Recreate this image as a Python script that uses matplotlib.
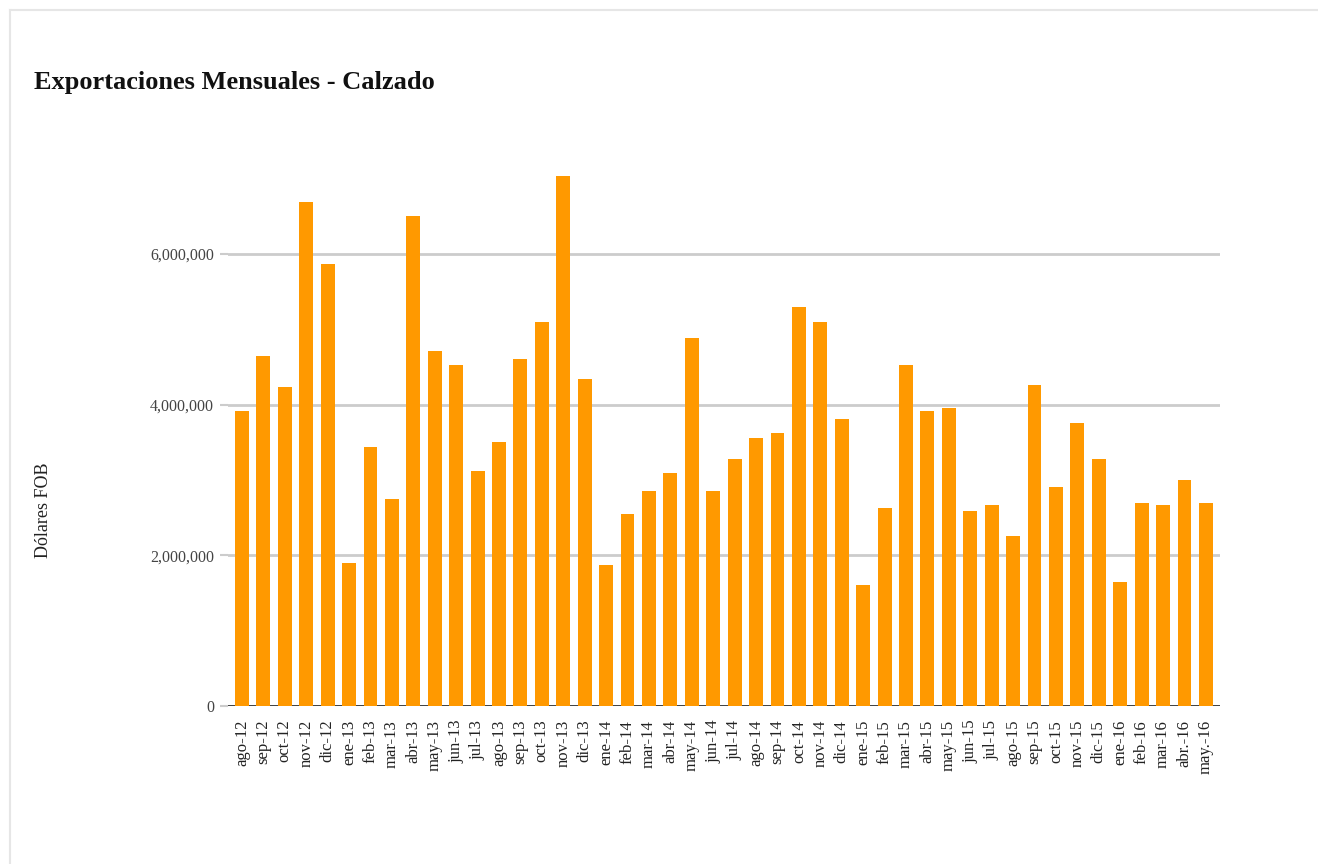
import matplotlib.pyplot as plt
from matplotlib.ticker import FuncFormatter
from matplotlib.lines import Line2D

meses = ['ago-12', 'sep-12', 'oct-12', 'nov-12', 'dic-12',
         'ene-13', 'feb-13', 'mar-13', 'abr-13', 'may-13', 'jun-13', 'jul-13',
         'ago-13', 'sep-13', 'oct-13', 'nov-13', 'dic-13',
         'ene-14', 'feb-14', 'mar-14', 'abr-14', 'may-14', 'jun-14', 'jul-14',
         'ago-14', 'sep-14', 'oct-14', 'nov-14', 'dic-14',
         'ene-15', 'feb-15', 'mar-15', 'abr-15', 'may-15', 'jun-15', 'jul-15',
         'ago-15', 'sep-15', 'oct-15', 'nov-15', 'dic-15',
         'ene-16', 'feb-16', 'mar-16', 'abr.-16', 'may.-16']

# exportaciones en dolares FOB
exportaciones = [3920000, 4640000, 4230000, 6690000, 5860000,
                 1900000, 3430000, 2740000, 6500000, 4710000, 4530000, 3120000,
                 3500000, 4610000, 5100000, 7030000, 4340000,
                 1870000, 2550000, 2850000, 3090000, 4880000, 2850000, 3280000,
                 3550000, 3620000, 5290000, 5100000, 3810000,
                 1600000, 2630000, 4530000, 3920000, 3960000, 2590000, 2670000,
                 2250000, 4260000, 2900000, 3760000, 3280000,
                 1640000, 2700000, 2670000, 3000000, 2700000]

serif = ['Liberation Serif', 'DejaVu Serif']

fig = plt.figure(figsize=(13.18, 8.64), dpi=100)
ax = fig.add_axes([0.173, 0.1829, 0.7525, 0.628])

x = range(len(meses))
ax.bar(x, exportaciones, width=0.65, color='#ff9900', zorder=3)

ax.set_xlim(-0.65, len(meses) - 0.35)
ax.set_ylim(0, 7200000)
ax.set_yticks([0, 2000000, 4000000, 6000000])
ax.yaxis.set_major_formatter(FuncFormatter(lambda v, p: '{:,.0f}'.format(v)))
ax.grid(axis='y', color='#cccccc', linewidth=2, zorder=0)
ax.axhline(0, color='#333333', linewidth=2, zorder=2)

ax.set_xticks(list(x))
ax.set_xticklabels(meses, rotation=90, family=serif, fontsize=12, color='#222222')
for lbl in ax.get_yticklabels():
    lbl.set_family(serif)
    lbl.set_fontsize(11.5)
    lbl.set_color('#444444')

ax.tick_params(axis='x', length=0, pad=10)
ax.tick_params(axis='y', length=6, color='#cccccc', width=1.5, pad=4)
for s in ax.spines.values():
    s.set_visible(False)

fig.text(0.033, 0.41, 'D\u00f3lares FOB', rotation=90, family=serif, fontsize=13,
         color='#222222', ha='center', va='center')
fig.text(0.026, 0.905, 'Exportaciones Mensuales - Calzado', family=serif,
         fontsize=19, fontweight='bold', color='#111111', ha='left', va='center')

# marco gris claro
fig.add_artist(Line2D([0.0076, 0.0076], [0.0, 0.988], transform=fig.transFigure,
                      color='#e6e6e6', linewidth=1.5))
fig.add_artist(Line2D([0.0076, 1.0], [0.988, 0.988], transform=fig.transFigure,
                      color='#e6e6e6', linewidth=1.5))

plt.savefig('out.png', dpi=100)
